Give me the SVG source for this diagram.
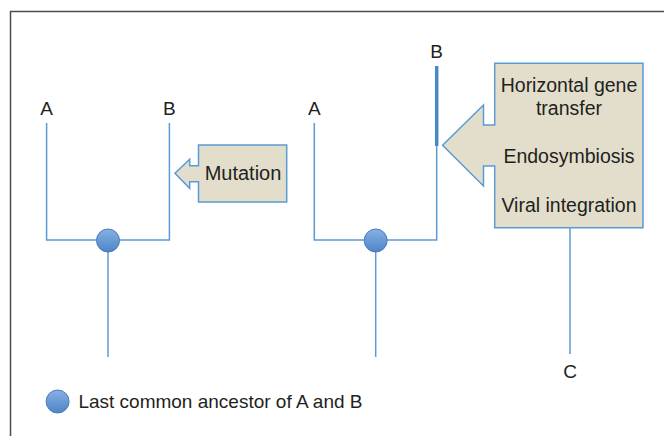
<svg xmlns="http://www.w3.org/2000/svg" width="664" height="436" viewBox="0 0 664 436">
  <defs>
    <linearGradient id="ball" x1="0" y1="0" x2="0" y2="1">
      <stop offset="0" stop-color="#86b0e4"/>
      <stop offset="1" stop-color="#4e85c7"/>
    </linearGradient>
    <style>
      .ln { stroke: #5b9bd5; stroke-width: 1.5; fill: none; }
      .box { fill: #e2decb; stroke: #5b9bd5; stroke-width: 1.5; }
      .node { fill: url(#ball); stroke: #4a7ebb; stroke-width: 1; }
      .t { font-family: "Liberation Sans", Arial, sans-serif; font-size: 19px; fill: #231f20; }
      .b { font-size: 19.5px; }
      .c { text-anchor: middle; }
    </style>
  </defs>
  <rect width="664" height="436" fill="#ffffff"/>
  <rect x="10.5" y="11.5" width="700" height="470" fill="none" stroke="#4d4d4d" stroke-width="1.5"/>

  <g id="connectors">
    <path class="ln" d="M46.6,123 V240 H169.4 V123"/>
    <path class="ln" d="M108,240 V357"/>
    <path class="ln" d="M314.3,123 V240 H436.7 V146"/>
    <path class="ln" d="M375.7,240 V357"/>
    <path d="M436.7,66 V146" stroke="#4a89c5" stroke-width="3.5" fill="none"/>
    <path class="ln" d="M570,227.7 V354"/>
  </g>

  <g id="tree1-A"><text class="t c" x="46.6" y="115">A</text></g>
  <g id="tree1-B"><text class="t c" x="169.4" y="115">B</text></g>
  <g id="tree1-ancestor"><circle class="node" cx="108" cy="240.5" r="11.5"/></g>

  <g id="mutation">
    <path class="box" d="M198.5,145 H286.7 V202 H198.5 V181.7 H189.7 V188.3 L175,173.3 L189.7,159.3 V165.7 H198.5 Z"/>
    <text class="t c" x="243" y="180" style="font-size:20px">Mutation</text>
  </g>

  <g id="tree2-A"><text class="t c" x="314.3" y="115">A</text></g>
  <g id="tree2-B"><text class="t c" x="436.7" y="58">B</text></g>
  <g id="tree2-ancestor"><circle class="node" cx="375.7" cy="240.5" r="11.5"/></g>

  <g id="transfer">
    <path class="box" d="M494.7,63.3 H643 V227.7 H494.7 V166 H483.5 V186 L442.6,145.3 L483.5,105 V125 H494.7 Z"/>
    <text class="t b c" x="569" y="92">Horizontal gene</text>
    <text class="t b c" x="569" y="115">transfer</text>
    <text class="t b c" x="569" y="163">Endosymbiosis</text>
    <text class="t b c" x="569" y="211.5">Viral integration</text>
  </g>

  <g id="C"><text class="t c" x="570" y="377.7">C</text></g>

  <g id="legend">
    <circle class="node" cx="57.6" cy="401.5" r="11.5"/>
    <text class="t" x="78.4" y="407.5">Last common ancestor of A and B</text>
  </g>
</svg>
